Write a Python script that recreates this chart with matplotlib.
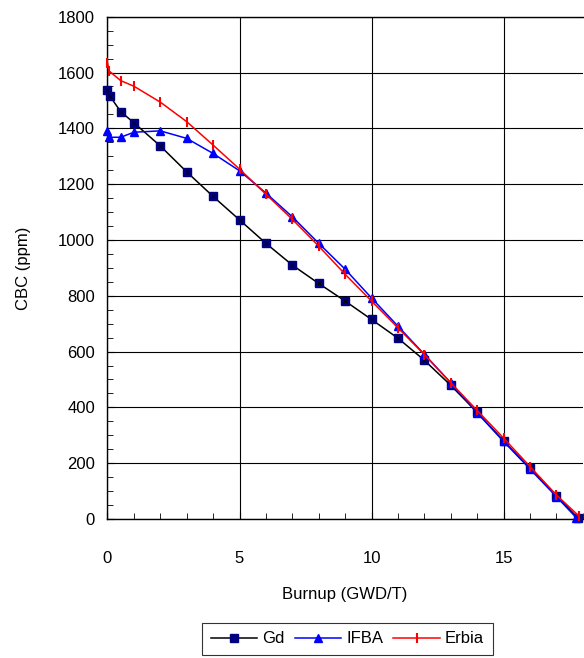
import matplotlib
matplotlib.use("Agg")
import matplotlib.pyplot as plt
from matplotlib.ticker import MultipleLocator

plt.rcParams['font.family'] = ['Liberation Sans', 'DejaVu Sans']

# Datos
gd_x = [0, 0.08, 0.5, 1, 2, 3, 4, 5, 6, 7, 8, 9, 10, 11, 12, 13, 14, 15, 16, 17, 17.8]
gd_y = [1537, 1517, 1460, 1420, 1337, 1244, 1156, 1072, 988, 910, 844, 781, 715,
        648, 569, 479, 382, 280, 182, 84, 5]

ifba_x = [0, 0.05, 0.5, 1, 2, 3, 4, 5, 6, 7, 8, 9, 10, 11, 12, 13, 14, 15, 16, 17, 17.75]
ifba_y = [1392, 1368, 1368, 1386, 1391, 1364, 1310, 1248, 1168, 1083, 988, 895, 792,
          691, 590, 488, 380, 278, 179, 80, 5]

erbia_x = [0, 0.07, 0.5, 1, 2, 3, 4, 5, 6, 7, 8, 9, 10, 11, 12, 13, 14, 15, 16, 17, 17.85]
erbia_y = [1635, 1605, 1571, 1551, 1494, 1424, 1340, 1254, 1164, 1074, 978, 877, 781,
           685, 589, 488, 389, 290, 188, 86, 11]

fig = plt.figure(figsize=(5.84, 6.58), dpi=100)
ax = fig.add_axes([0.184, 0.2112, 0.814, 0.7634])

ax.plot(gd_x, gd_y, color='black', lw=1.1, marker='s', ms=5.5,
        mfc='#000080', mec='#000080', label='Gd', zorder=3, clip_on=False)
ax.plot(gd_x, gd_y, ls='none', marker='x', ms=2.5, mew=0.6, color='black',
        zorder=3.1, clip_on=False)
ax.plot(ifba_x, ifba_y, color='blue', lw=1.1, marker='^', ms=5.5,
        mfc='blue', mec='blue', label='IFBA', zorder=4, clip_on=False)
ax.plot(erbia_x, erbia_y, color='red', lw=1.1, marker='|', ms=7, mew=1.5,
        label='Erbia', zorder=5, clip_on=False)

ax.set_xlim(0, 18)
ax.set_ylim(0, 1800)
ax.xaxis.set_major_locator(MultipleLocator(5))
ax.xaxis.set_minor_locator(MultipleLocator(1))
ax.yaxis.set_major_locator(MultipleLocator(200))
ax.yaxis.set_minor_locator(MultipleLocator(50))
ax.tick_params(which='both', direction='in', labelsize=12, top=False, right=False)
ax.tick_params(which='major', length=5)
ax.tick_params(axis='x', which='major', pad=23)
ax.tick_params(axis='y', which='major', pad=9)
ax.tick_params(which='minor', length=4)
ax.grid(True, which='major', color='black', lw=0.8)

for s in ax.spines.values():
    s.set_linewidth(1.0)
ax.spines['right'].set_visible(False)

ax.set_xlabel('Burnup (GWD/T)', fontsize=12, labelpad=15)
ax.set_ylabel('CBC (ppm)', fontsize=12, labelpad=19)

leg = fig.legend(loc='center', bbox_to_anchor=(0.595, 0.029), ncol=3, fontsize=12,
                 frameon=True, fancybox=False, edgecolor='black', handlelength=2.8,
                 columnspacing=0.6, handletextpad=0.3, borderpad=0.5)
leg.get_frame().set_linewidth(0.8)

fig.savefig('out.png', dpi=100)
